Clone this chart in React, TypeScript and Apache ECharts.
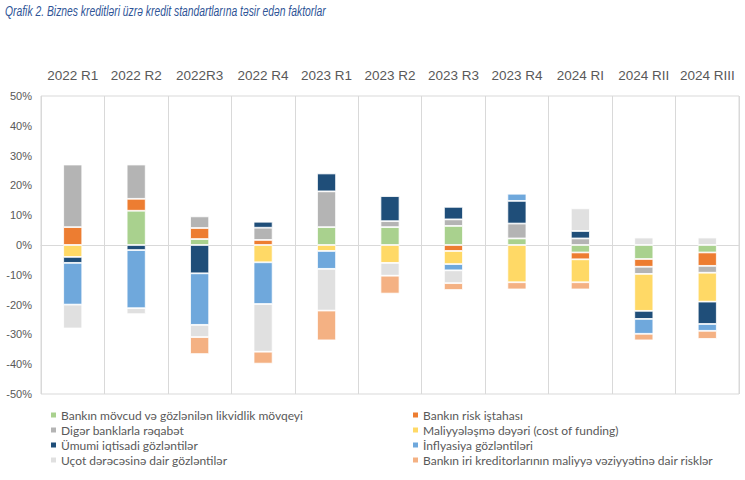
import React, { useEffect, useRef } from "react";
import * as echarts from "echarts";

const categories = ["2022 R1", "2022 R2", "2022R3", "2022 R4", "2023 R1", "2023 R2", "2023 R3", "2023 R4", "2024 RI", "2024 RII", "2024 RIII"];

const seriesNames = [
  "Bankın mövcud və gözlənilən likvidlik mövqeyi",
  "Bankın risk iştahası",
  "Digər banklarla rəqabət",
  "Maliyyələşmə dəyəri (cost of funding)",
  "Ümumi iqtisadi gözləntilər",
  "İnflyasiya gözləntiləri",
  "Uçot dərəcəsinə dair gözləntilər",
  "Bankın iri kreditorlarının maliyyə vəziyyətinə dair risklər",
];

const liquidity = [0, 11.5, 2, 0, 6, 6, 6.4, 2.2, -2.5, -4.7, -2.5];
const riskAppetite = [6, 4, 3.7, 1.7, 0, 0, -2, 0, -2.3, -2.6, -4.5];
const competition = [21, 11.5, 3.9, 4.1, 12, 2, 2.2, 5, 2.2, -2.4, -2.3];
const costOfFunding = [-4, 0, 0, -5.8, -2, -6, -4.4, -12.5, -7.7, -12.4, -9.7];
const economy = [-2, -1.7, -9.5, 2, 6, 8.4, 4.2, 7.6, 2.5, -2.7, -7.5];
const inflation = [-14, -19.5, -17.3, -14, -6, 0, -2.1, 2.4, 0, -5, -2.3];
const discountRate = [-8, -2, -4.1, -16, -14, -4.3, -4.3, 0, 7.6, 2.5, 2.5];
const creditors = [0, 0, -5.7, -4, -10, -6, -2.3, -2.4, -2.4, -2.2, -2.7];

const yTicks = [-50, -40, -30, -20, -10, 0, 10, 20, 30, 40, 50];

const colors = ["#A9D18E", "#ED7D31", "#B4B4B4", "#FFD966", "#1F4E79", "#6FA8DC", "#E0E0E0", "#F4B183"];

const allData = [liquidity, riskAppetite, competition, costOfFunding, economy, inflation, discountRate, creditors];

export default function App() {
  const ref = useRef<HTMLDivElement>(null);
  useEffect(() => {
    if (!ref.current) return;
    const chart = echarts.init(ref.current, null, { renderer: "svg" });
    const textColor = "#595959";
    const gridColor = "#D9D9D9";
    const legendText = { color: textColor, fontSize: 12, fontFamily: "Lato", padding: [0, 0, 0, -1] };
    const option = {
      animation: false,
      backgroundColor: "#ffffff",
      graphic: [
        {
          type: "text",
          left: 5,
          top: 3,
          scaleX: 0.69,
          style: {
            text: "Qrafik 2. Biznes kreditləri üzrə kredit standartlarına təsir edən faktorlar",
            fill: "#2F5597",
            font: "italic 15px 'Liberation Sans', Arial, sans-serif",
          },
        },
      ],
      grid: {
        left: 41,
        right: 6,
        top: 96,
        bottom: 86,
        show: true,
        borderColor: gridColor,
        borderWidth: 1,
      },
      legend: [
        {
          data: [seriesNames[0], seriesNames[2], seriesNames[4], seriesNames[6]],
          orient: "vertical",
          left: 44,
          top: 404,
          itemWidth: 7,
          itemHeight: 7,
          itemGap: 3,
          icon: "rect",
          textStyle: legendText,
        },
        {
          data: [seriesNames[1], seriesNames[3], seriesNames[5], seriesNames[7]],
          orient: "vertical",
          left: 406,
          top: 404,
          itemWidth: 7,
          itemHeight: 7,
          itemGap: 3,
          icon: "rect",
          textStyle: legendText,
        },
      ],
      xAxis: [
        {
          type: "category",
          data: categories,
          position: "top",
          axisLine: { show: false, onZero: false },
          axisTick: { show: false },
          axisLabel: { color: textColor, fontSize: 13.5, fontFamily: "Liberation Sans", margin: 14, interval: 0 },
          splitLine: { show: false },
        },
        {
          type: "category",
          data: categories,
          position: "bottom",
          axisLine: { show: true, onZero: true, lineStyle: { color: gridColor, width: 1 } },
          axisTick: { show: false },
          axisLabel: { show: false },
          splitLine: { show: true, interval: 0, lineStyle: { color: gridColor, width: 1 } },
        },
      ],
      yAxis: {
        type: "value",
        min: yTicks[0],
        max: yTicks[yTicks.length - 1],
        interval: 10,
        axisLine: { show: false },
        axisTick: { show: false },
        splitLine: { show: false },
        axisLabel: {
          color: textColor,
          fontSize: 11,
          fontFamily: "Liberation Sans",
          margin: 9,
          formatter: (v: number) => `${v}%`,
        },
      },
      series: allData.map((d, i) => ({
        name: seriesNames[i],
        type: "bar",
        stack: "total",
        barWidth: "30%",
        xAxisIndex: 0,
        itemStyle: { color: colors[i], borderColor: "#ffffff", borderWidth: 0.8 },
        data: d.map((v) => (v === 0 ? null : v)),
      })),
    };
    chart.setOption(option as any);
    return () => chart.dispose();
  }, []);
  return (
    <div
      ref={ref}
      style={{ position: "absolute", left: 0, top: 0, width: 745, height: 480, background: "#fff" }}
    />
  );
}
